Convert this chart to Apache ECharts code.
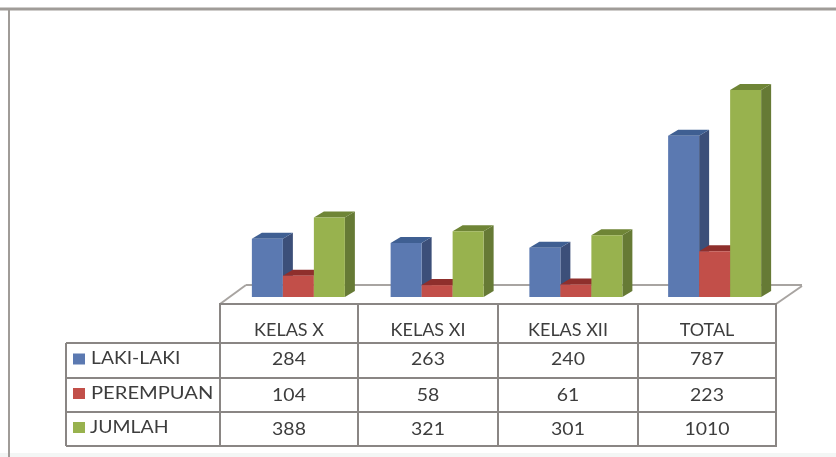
<!DOCTYPE html>
<html>
<head>
<meta charset="utf-8">
<style>
  html, body { margin: 0; padding: 0; background: #fff; }
  #main { width: 836px; height: 457px; }
</style>
<script src="https://cdn.jsdelivr.net/npm/echarts@6/dist/echarts.min.js"></script>
</head>
<body>
<div id="main"></div>
<script>
const categories = ['KELAS X', 'KELAS XI', 'KELAS XII', 'TOTAL']
const lakiLaki = [284, 263, 240, 787]
const perempuan = [104, 58, 61, 223]
const jumlah = [388, 321, 301, 1010]
const seriesNames = ['LAKI-LAKI', 'PEREMPUAN', 'JUMLAH']

const lineColor = '#8a8684'
const floorColor = '#a8a4a1'
const frameColor = '#a09c98'
const textColor = '#3d3d3d'
const fontFamily = 'Lato, sans-serif'

// front, top, side
const palette = [
  ['#5b79b1', '#3f5f92', '#3c4f79'],
  ['#c24f49', '#8f2f2c', '#8f2f2c'],
  ['#98b24e', '#6f8536', '#667a35']
]

const barWidth = 31
const depthX = 10
const depthY = 6

// 3D look: each bar is a front, top and side polygon
function bar3d(seriesIndex) {
  return function (params, api) {
    const idx = api.value(0)
    const base = api.coord([idx, 0])
    const top = api.coord([idx, api.value(1)])
    const x0 = base[0] + (seriesIndex - 1.5) * barWidth
    const x1 = x0 + barWidth
    const color = palette[seriesIndex]
    return {
      type: 'group',
      children: [
        {
          type: 'polygon',
          shape: { points: [[x1, top[1]], [x1 + depthX, top[1] - depthY], [x1 + depthX, base[1] - depthY], [x1, base[1]]] },
          style: { fill: color[2] }
        },
        {
          type: 'polygon',
          shape: { points: [[x0, top[1]], [x0 + depthX, top[1] - depthY], [x1 + depthX, top[1] - depthY], [x1, top[1]]] },
          style: { fill: color[1] }
        },
        {
          type: 'rect',
          shape: { x: x0, y: top[1], width: barWidth, height: base[1] - top[1] },
          style: { fill: color[0] }
        }
      ]
    }
  }
}

function barSeries(name, values, i) {
  return {
    type: 'custom',
    name: name,
    coordinateSystem: 'cartesian2d',
    z: 10 + i,
    renderItem: bar3d(i),
    encode: { x: 0, y: 1 },
    data: values.map((v, k) => [k, v])
  }
}

// table and frame
const colX = [220, 358, 498, 638, 776]
const rowY = [304, 343, 378, 412, 446]
const labelX = 66
const graphics = []

function line(x1, y1, x2, y2, width, color) {
  graphics.push({
    type: 'line',
    z: 5,
    shape: { x1: x1, y1: y1, x2: x2, y2: y2 },
    style: { stroke: color || lineColor, lineWidth: width || 2 }
  })
}
function text(str, x, y, align, size, sx) {
  graphics.push({
    type: 'text',
    z: 6,
    x: x,
    y: y,
    scaleX: sx || 1,
    style: { text: str, fill: textColor, font: (size || 18) + 'px ' + fontFamily, textAlign: align, textVerticalAlign: 'middle' }
  })
}

// faint strip along the bottom of the scan
graphics.push({
  type: 'rect',
  z: 1,
  shape: { x: 0, y: 453, width: 836, height: 4 },
  style: { fill: '#f3f6f5' }
})

// outer frame
line(0, 9, 836, 9, 3, frameColor)
line(9, 9, 9, 457, 2, frameColor)

// floor
line(220, 304, 246, 285, 2, floorColor)
line(776, 304, 802, 286, 2, floorColor)
line(246, 285, 802, 285, 2, floorColor)

// grid lines of the table
line(219, rowY[0], 777, rowY[0])
rowY.slice(1).forEach(y => line(labelX, y, 777, y))
colX.forEach(x => line(x, rowY[0], x, rowY[4]))
line(labelX, rowY[1], labelX, rowY[4])

categories.forEach((c, i) => text(c, (colX[i] + colX[i + 1]) / 2, 330, 'center'))

const rows = [lakiLaki, perempuan, jumlah]
const nameX = [91, 91, 90]
const nameScale = [1.07, 1.12, 1.08]
const valueY = [359, 395, 429]
rows.forEach((values, r) => {
  const cy = (rowY[r + 1] + rowY[r + 2]) / 2
  graphics.push({
    type: 'rect',
    z: 6,
    shape: { x: 73, y: cy - 7, width: 12, height: 11 },
    style: { fill: palette[r][0] }
  })
  text(seriesNames[r], nameX[r], cy - 2, 'left', 18, nameScale[r])
  values.forEach((v, i) => text(String(v), (colX[i] + colX[i + 1]) / 2, valueY[r], 'center', 18, 1.08))
})

const chart = echarts.init(document.getElementById('main'))
chart.setOption({
  animation: false,
  backgroundColor: '#fff',
  grid: { left: 229, top: 90, width: 555, height: 207 },
  xAxis: {
    type: 'category',
    data: categories,
    axisLine: { show: false },
    axisTick: { show: false },
    axisLabel: { show: false }
  },
  yAxis: {
    type: 'value',
    min: 0,
    max: 1010,
    axisLine: { show: false },
    axisTick: { show: false },
    axisLabel: { show: false },
    splitLine: { show: false }
  },
  graphic: graphics,
  series: [
    barSeries(seriesNames[0], lakiLaki, 0),
    barSeries(seriesNames[1], perempuan, 1),
    barSeries(seriesNames[2], jumlah, 2)
  ]
})
</script>
</body>
</html>
